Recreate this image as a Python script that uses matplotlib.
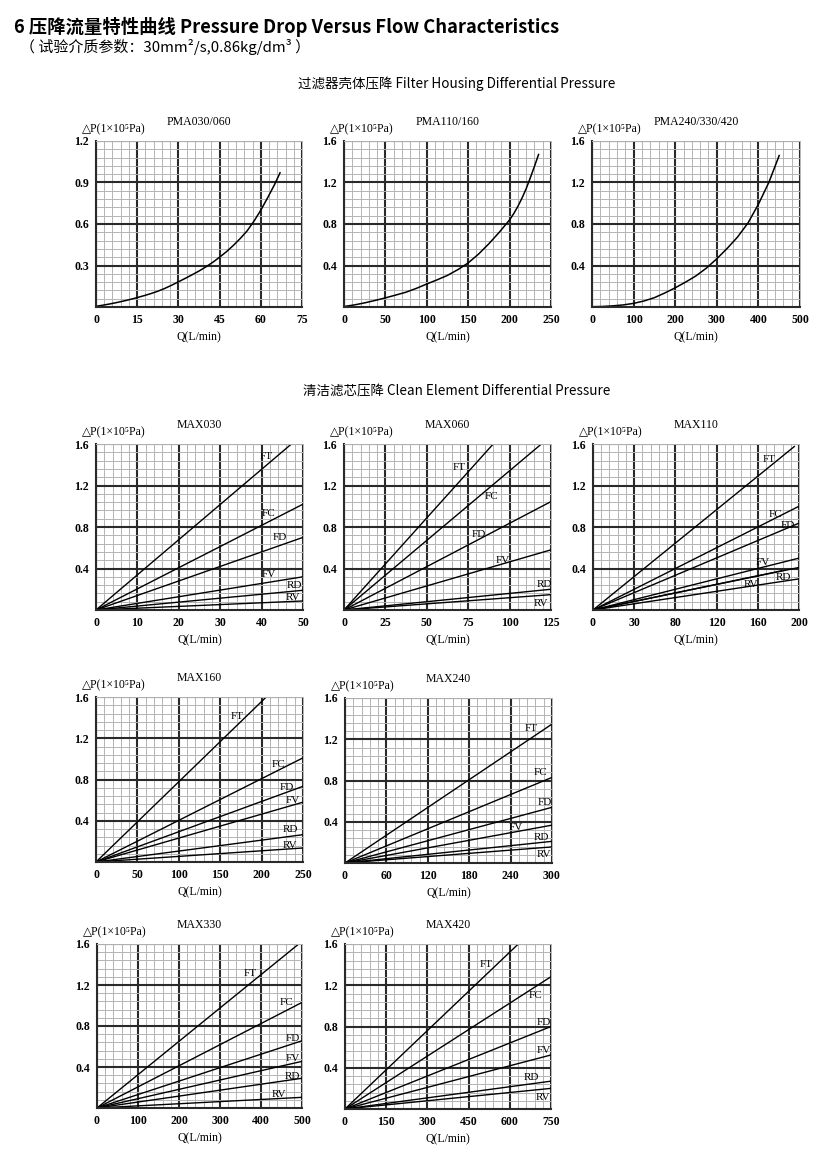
import numpy as np
import matplotlib.pyplot as plt
from matplotlib.ticker import MultipleLocator

plt.rcParams['font.family'] = ['Liberation Serif', 'DejaVu Serif', 'DejaVu Sans']

W, H = 835, 1161

# ---- data: filter housing curves ----
pma030_q = [0, 2.5, 5, 7.5, 10, 12.5, 15, 17.5, 20, 22.5, 25, 27.5, 30, 32.5, 35, 37.5,
            40, 42.5, 45, 47.5, 50, 52.5, 55, 57.5, 60, 62.5, 65, 67]
pma030_p = [0.005, 0.013, 0.022, 0.032, 0.043, 0.055, 0.068, 0.082, 0.097, 0.114, 0.134,
            0.157, 0.182, 0.207, 0.233, 0.26, 0.29, 0.323, 0.36, 0.40, 0.445, 0.495, 0.55,
            0.62, 0.70, 0.79, 0.885, 0.97]

pma110_q = [0, 12.5, 25, 37.5, 50, 62.5, 75, 87.5, 100, 112.5, 125, 137.5, 150, 162.5,
            175, 187.5, 200, 205, 210, 215, 220, 225, 230, 235]
pma110_p = [0.005, 0.02, 0.04, 0.063, 0.088, 0.115, 0.143, 0.18, 0.222, 0.262, 0.305, 0.36,
            0.425, 0.51, 0.61, 0.72, 0.84, 0.90, 0.97, 1.05, 1.14, 1.245, 1.355, 1.47]

pma240_q = [0, 25, 50, 75, 100, 125, 150, 175, 200, 225, 250, 275, 300, 325, 350, 375,
            400, 425, 450]
pma240_p = [0.003, 0.005, 0.011, 0.02, 0.035, 0.058, 0.09, 0.135, 0.185, 0.24, 0.30, 0.375,
            0.465, 0.565, 0.675, 0.81, 0.99, 1.2, 1.46]

# ---- data: clean element lines (end point of each straight line from origin) ----
max030_names = ['FT', 'FC', 'FD', 'FV', 'RD', 'RV']
max030_q_end = [47.2, 50, 50, 50, 50, 50]
max030_p_end = [1.6, 1.02, 0.70, 0.32, 0.19, 0.087]

max060_names = ['FT', 'FC', 'FD', 'FV', 'RD', 'RV']
max060_q_end = [90.1, 119.2, 125, 125, 125, 125]
max060_p_end = [1.6, 1.6, 1.045, 0.58, 0.20, 0.148]

max110_names = ['FT', 'FC', 'FD', 'FV', '', 'RD', 'RV']
max110_q_end = [196, 200, 200, 200, 200, 184, 200]
max110_p_end = [1.58, 1.0, 0.837, 0.50, 0.41, 0.38, 0.30]

max160_names = ['FT', 'FC', 'FD', 'FV', 'RD', 'RV']
max160_q_end = [205.6, 250, 250, 250, 250, 250]
max160_p_end = [1.6, 1.01, 0.734, 0.58, 0.265, 0.136]

max240_names = ['FT', 'FC', 'FD', 'FV', 'RD', 'RV']
max240_q_end = [300, 300, 300, 300, 300, 300]
max240_p_end = [1.347, 0.83, 0.54, 0.367, 0.21, 0.156]

max330_names = ['FT', 'FC', 'FD', 'FV', 'RD', 'RV']
max330_q_end = [492, 500, 500, 500, 500, 500]
max330_p_end = [1.6, 1.03, 0.656, 0.455, 0.29, 0.104]

max420_names = ['FT', 'FC', 'FD', 'FV', 'RD', 'RV']
max420_q_end = [631, 750, 750, 750, 750, 750]
max420_p_end = [1.6, 1.283, 0.80, 0.524, 0.27, 0.20]

# label positions (data coords) for the line names
max030_lab = [(41.2, 1.48), (41.6, 0.93), (44.3, 0.70), (41.8, 0.34), (48.0, 0.235), (47.6, 0.12)]
max060_lab = [(69.6, 1.37), (89.3, 1.09), (81.7, 0.73), (95.8, 0.48), (121, 0.25), (118.8, 0.065)]
max110_lab = [(171, 1.45), (177, 0.92), (189, 0.81), (165, 0.46), None, (185, 0.31), (153, 0.25)]
max160_lab = [(171, 1.41), (220.6, 0.95), (230.6, 0.72), (237.5, 0.60), (234.7, 0.32), (233.9, 0.16)]
max240_lab = [(270, 1.30), (283, 0.877), (289, 0.584), (247.7, 0.344), (285.4, 0.25), (288, 0.081)]
max330_lab = [(373.6, 1.315), (462.7, 1.03), (478, 0.68), (478, 0.487), (475.7, 0.31), (443, 0.13)]
max420_lab = [(513, 1.40), (692, 1.10), (724.5, 0.84), (724.5, 0.565), (678, 0.31), (722, 0.11)]

fig = plt.figure(figsize=(W / 100, H / 100), dpi=100)


def make_axes(l, t, r, b, title, xmax, xstep, ymax, ystep, xlabels=None):
    ax = fig.add_axes([l / W, 1 - b / H, (r - l) / W, (b - t) / H])
    ax.set_xlim(0, xmax)
    ax.set_ylim(0, ymax)
    ax.xaxis.set_minor_locator(MultipleLocator(xstep / 5))
    ax.yaxis.set_minor_locator(MultipleLocator(ystep / 5))
    ax.grid(which='minor', color='#b4b4b4', lw=0.7)
    ax.grid(which='major', color='#2a2a2a', lw=1.5)
    ax.set_axisbelow(True)
    for s in ['top', 'right']:
        ax.spines[s].set_color('#b4b4b4')
        ax.spines[s].set_linewidth(0.7)
    for s in ['left', 'bottom']:
        ax.spines[s].set_color('#2a2a2a')
        ax.spines[s].set_linewidth(1.5)
    ax.tick_params(which='both', length=0, labelsize=8.5, pad=5)
    xt = np.arange(0, xmax + xstep / 2, xstep)
    ax.set_xticks(xt)
    if xlabels is None:
        xlabels = [str(int(v)) for v in xt]
    ax.set_xticklabels(xlabels)
    yt = np.arange(ystep, ymax + ystep / 2, ystep)
    ax.set_yticks(yt)
    ax.set_yticklabels(['%.1f' % v for v in yt])
    ax.set_xlabel('Q(L/min)', fontsize=8.5, labelpad=4)
    ax.text(0.5, 1.0 + 19 / (b - t), title, transform=ax.transAxes,
            ha='center', va='center', fontsize=8.5)
    ax.text(-14 / (r - l), 1.0 + 12 / (b - t), '△P(1×10⁵Pa)', transform=ax.transAxes,
            ha='left', va='center', fontsize=8.5)
    for lab in ax.get_xticklabels() + ax.get_yticklabels():
        lab.set_fontweight('bold')
    return ax


def draw_lines(ax, names, q_end, p_end, labs):
    for n, q, p, lab in zip(names, q_end, p_end, labs):
        ax.plot([0, q], [0, p], color='black', lw=1.0, solid_capstyle='butt')
        if lab is not None and n:
            ax.text(lab[0], lab[1], n, ha='center', va='center', fontsize=8)


# titles
cjk = ['Noto Sans CJK SC', 'DejaVu Sans']
fig.text(14 / W, 1 - 27 / H, '6 压降流量特性曲线 Pressure Drop Versus Flow Characteristics',
         family=cjk, fontsize=13.2, fontweight='bold', ha='left', va='center')
fig.text(20 / W, 1 - 47 / H, '（ 试验介质参数：30mm²/s,0.86kg/dm³ ）',
         family=cjk, fontsize=10.8, ha='left', va='center')
fig.text(457 / W, 1 - 84 / H, '过滤器壳体压降 Filter Housing Differential Pressure',
         family=cjk, fontsize=9.7, ha='center', va='center')
fig.text(457 / W, 1 - 391 / H, '清洁滤芯压降 Clean Element Differential Pressure',
         family=cjk, fontsize=9.7, ha='center', va='center')

# filter housing row
ax = make_axes(96, 141, 302, 307, 'PMA030/060', 75, 15, 1.2, 0.3)
ax.plot(pma030_q, pma030_p, color='black', lw=1.1)
ax = make_axes(344, 141, 551, 307, 'PMA110/160', 250, 50, 1.6, 0.4)
ax.plot(pma110_q, pma110_p, color='black', lw=1.1)
ax = make_axes(592, 141, 800, 307, 'PMA240/330/420', 500, 100, 1.6, 0.4)
ax.plot(pma240_q, pma240_p, color='black', lw=1.1)

# clean element rows
ax = make_axes(96, 444, 303, 610, 'MAX030', 50, 10, 1.6, 0.4)
draw_lines(ax, max030_names, max030_q_end, max030_p_end, max030_lab)
ax = make_axes(344, 444, 551, 610, 'MAX060', 125, 25, 1.6, 0.4)
draw_lines(ax, max060_names, max060_q_end, max060_p_end, max060_lab)
ax = make_axes(593, 444, 799, 610, 'MAX110', 200, 40, 1.6, 0.4,
               xlabels=['0', '30', '80', '120', '160', '200'])
draw_lines(ax, max110_names, max110_q_end, max110_p_end, max110_lab)

ax = make_axes(96, 697, 303, 862, 'MAX160', 250, 50, 1.6, 0.4)
draw_lines(ax, max160_names, max160_q_end, max160_p_end, max160_lab)
ax = make_axes(345, 698, 552, 863, 'MAX240', 300, 60, 1.6, 0.4)
draw_lines(ax, max240_names, max240_q_end, max240_p_end, max240_lab)

ax = make_axes(97, 944, 302, 1108, 'MAX330', 500, 100, 1.6, 0.4)
draw_lines(ax, max330_names, max330_q_end, max330_p_end, max330_lab)
ax = make_axes(345, 944, 551, 1109, 'MAX420', 750, 150, 1.6, 0.4)
draw_lines(ax, max420_names, max420_q_end, max420_p_end, max420_lab)

fig.savefig('out.png', dpi=100, facecolor='white')
